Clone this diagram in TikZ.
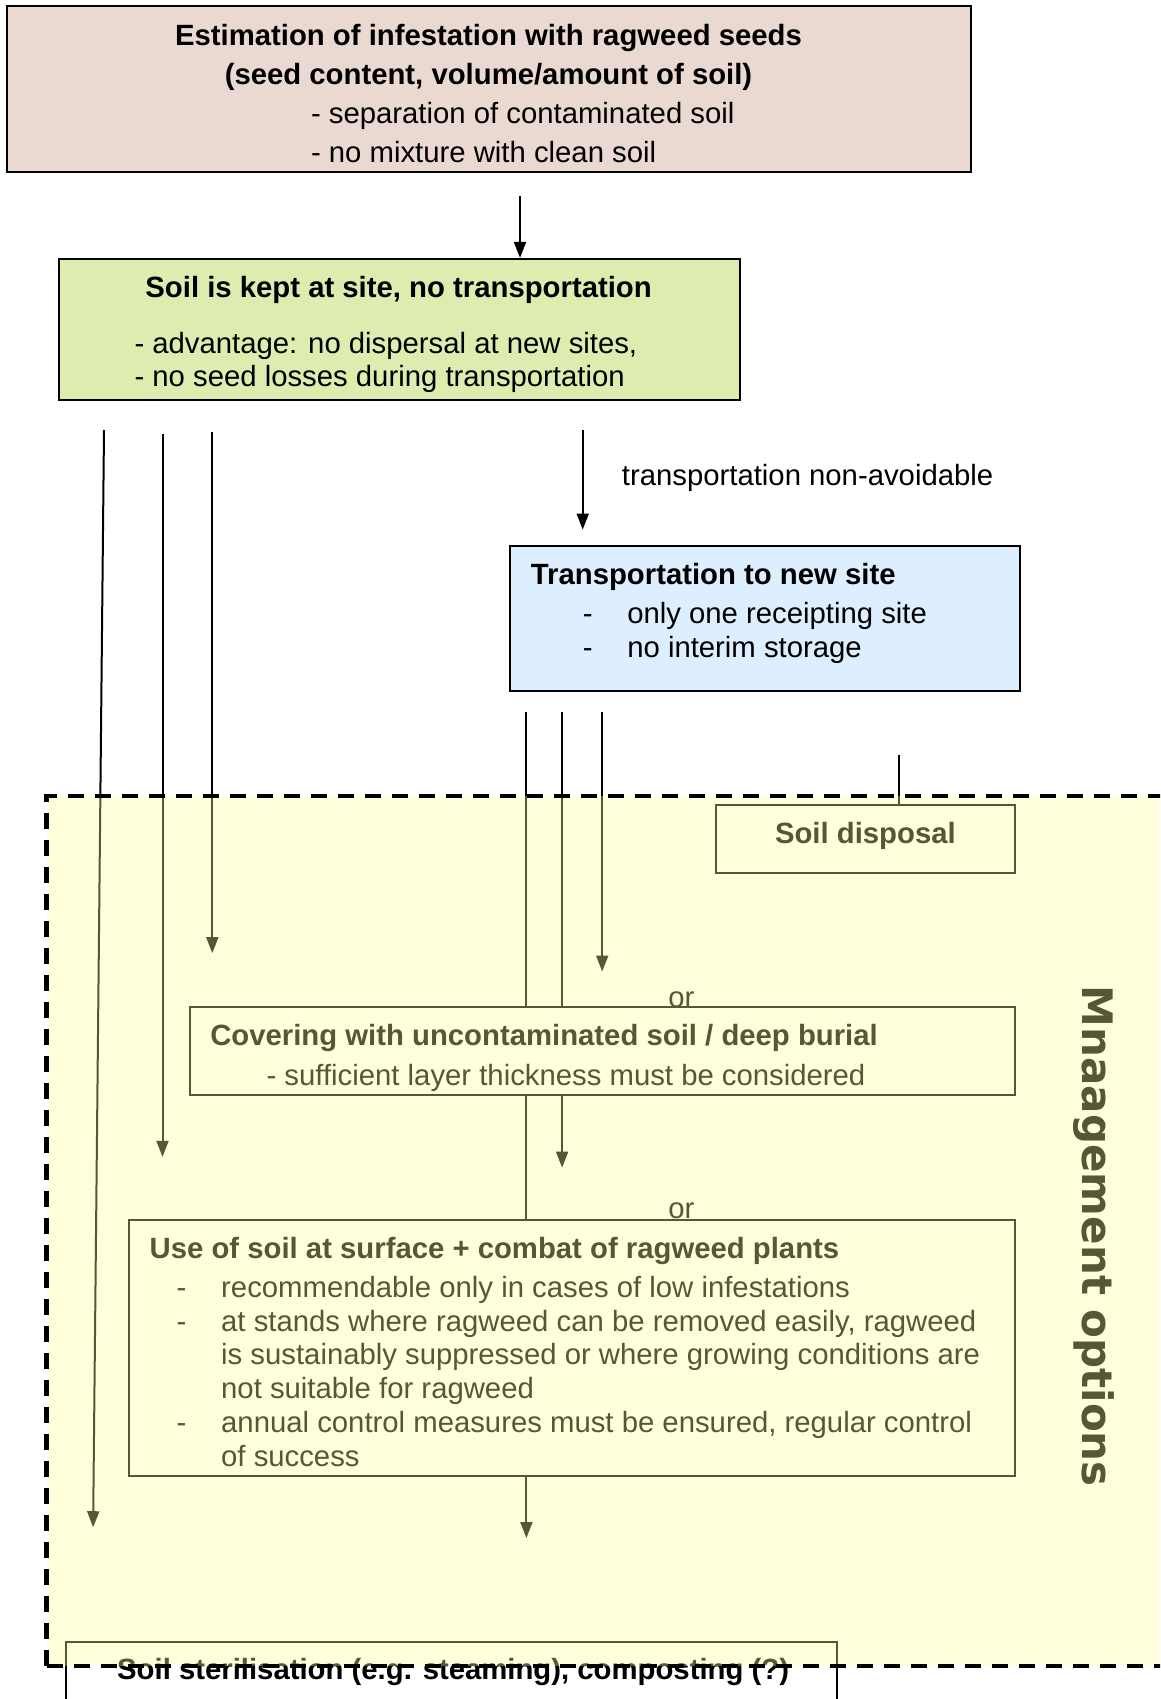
\documentclass[tikz,border=0pt]{standalone}
\usepackage{fontspec}
\setmainfont{Liberation Sans}
\newfontfamily\vfont{DejaVu Sans}
\usetikzlibrary{arrows.meta}
\definecolor{pinkfill}{RGB}{234,217,208}
\definecolor{greenfill}{RGB}{221,237,175}
\definecolor{bluefill}{RGB}{221,238,255}
\definecolor{overlayc}{RGB}{255,255,152}
\tikzset{
  boxn/.style={draw, line width=2pt, inner sep=0pt, fill=white},
  ln/.style={line width=2pt},
  arr/.style={line width=2pt, -{Triangle[length=16pt,width=12pt]}},
  txt/.style={inner sep=0pt, anchor=base, font=\fontsize{29.3}{35}\selectfont},
  btxt/.style={inner sep=0pt, anchor=base, font=\fontsize{29.3}{35}\selectfont\bfseries},
  lt/.style={txt, anchor=base west},
  blt/.style={btxt, anchor=base west},
  regiondash/.style={line width=4.5pt, dash pattern=on 16pt off 11pt}
}
\begin{document}
\begin{tikzpicture}[x=1pt,y=-1pt]
\useasboundingbox (0,0) rectangle (1160,1699);
\clip (0,0) rectangle (1160,1699);
\fill[white] (0,0) rectangle (1160,1699);

% free ends of connectors
\coordinate (a0) at (520,196);
\coordinate (l1s) at (104,430);   \coordinate (l1e) at (93.1,1527.2);
\coordinate (l2s) at (162.5,434.3); \coordinate (l2e) at (162.5,1156.8);
\coordinate (l3s) at (212.3,432.2); \coordinate (l3e) at (212.3,953.1);
\coordinate (ts) at (582.7,430);  \coordinate (te) at (582.7,529.6);
\coordinate (l4s) at (526.4,711.6); \coordinate (l4e) at (526.4,1538);
\coordinate (l5s) at (562.1,711.6); \coordinate (l5e) at (562.1,1167.6);
\coordinate (l6s) at (602.2,711.6); \coordinate (l6e) at (602.2,971.5);
\coordinate (l7s) at (899,755);

% boxes
\node[boxn, fill=pinkfill, minimum width=964pt, minimum height=165.7pt] (est) at (488.5,89.35) {};
\node[boxn, fill=greenfill, minimum width=681.3pt, minimum height=140.8pt] (keep) at (399.15,329.3) {};
\node[boxn, fill=bluefill, minimum width=510.2pt, minimum height=145.1pt] (trans) at (765.2,618.45) {};

% connectors (under the lower boxes)
\draw[arr] (a0) -- (a0 |- keep.north);
\draw[arr] (l1s) -- (l1e);
\draw[arr] (l2s) -- (l2e);
\draw[arr] (l3s) -- (l3e);
\draw[arr] (ts) -- (te);
\draw[arr] (l4s) -- (l4e);
\draw[arr] (l5s) -- (l5e);
\draw[arr] (l6s) -- (l6e);

\node[boxn, minimum width=298.9pt, minimum height=68.3pt] (disp) at (865.45,838.85) {};
\node[boxn, minimum width=825.4pt, minimum height=87.7pt] (cover) at (602.2,1051.15) {};
\node[boxn, minimum width=886pt, minimum height=256.7pt] (use) at (571.9,1347.95) {};
\node[boxn, minimum width=771.2pt, minimum height=118pt] (steril) at (451.6,1701) {};
\draw[ln] (l7s) -- (l7s |- disp.north);

% texts
\node[btxt] (t1) at (488.5,45.4) {Estimation of infestation with ragweed seeds};
\node[btxt] (t2) at (488.5,84.3) {(seed content, volume/amount of soil)};
\node[lt] (t3) at (310.8,123.3) {- separation of contaminated soil};
\node[lt] (t4) at (310.8,162.3) {- no mixture with clean soil};

\node[btxt] (k1) at (398.6,297.7) {Soil is kept at site, no transportation};
\node[lt] (k2) at (134.3,353) {- advantage: no dispersal at new sites,};
\node[lt] (k3) at (134.3,386.5) {- no seed losses during transportation};

\node[lt] (lab) at (621.7,485.1) {transportation non-avoidable};

\node[blt] (b1) at (530.7,584.7) {Transportation to new site};
\node[lt] (b2d) at (582.7,623.7) {-};
\node[lt] (b2) at (627.1,623.7) {only one receipting site};
\node[lt] (b3d) at (582.7,657.3) {-};
\node[lt] (b3) at (627.1,657.3) {no interim storage};

\node[btxt] (d1) at (865.4,843.7) {Soil disposal};

\node[txt] (or1) at (681.3,1007.2) {or};
\node[blt] (c1) at (210.1,1045.1) {Covering with uncontaminated soil / deep burial};
\node[lt] (c2) at (266.4,1085.1) {- sufficient layer thickness must be considered};

\node[txt] (or2) at (681.3,1218.4) {or};
\node[blt] (u1) at (149.5,1258.4) {Use of soil at surface + combat of ragweed plants};
\node[lt] (u2d) at (176.5,1297.4) {-};
\node[lt] (u2) at (221,1297.4) {recommendable only in cases of low infestations};
\node[lt] (u3d) at (176.5,1331) {-};
\node[lt] (u3) at (221,1331) {at stands where ragweed can be removed easily, ragweed};
\node[lt] (u4) at (221,1364.7) {is sustainably suppressed or where growing conditions are};
\node[lt] (u5) at (221,1398.1) {not suitable for ragweed};
\node[lt] (u6d) at (176.5,1432.8) {-};
\node[lt] (u6) at (221,1432.8) {annual control measures must be ensured, regular control};
\node[lt] (u7) at (221,1466.4) {of success};

\node[blt] (s1) at (117,1679.7) {Soil sterilisation (e.g. steaming), composting (?)};

\node[inner sep=0pt, rotate=-90, font=\vfont\bfseries\fontsize{42}{50}\selectfont] (mo) at (1094,1236.4) {Mnaagement options};

% semi-transparent region overlay and its dashed border
\fill[overlayc, fill opacity=0.34] (46.6,796) rectangle (1200,1665.8);
\draw[regiondash] (46.6,1665.8) -- (46.6,796) -- (1200,796);
\draw[regiondash] (46.6,1665.8) -- (1200,1665.8);
\end{tikzpicture}
\end{document}
